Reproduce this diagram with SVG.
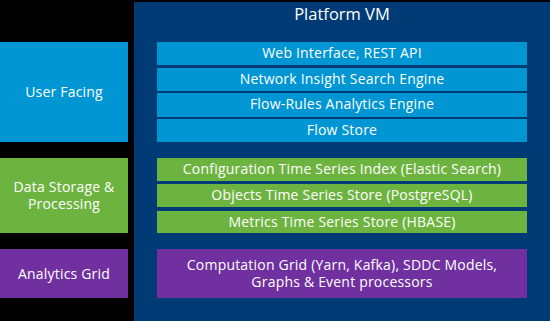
<svg xmlns="http://www.w3.org/2000/svg" width="550" height="321" viewBox="0 0 550 321">
  <style>
    .t { font-family: "Open Sans", "Liberation Sans", sans-serif; fill: #ffffff; text-anchor: middle; font-size: 14px; letter-spacing: 0.2px; }
    .title { font-size: 16.5px; letter-spacing: 0; }
    .blue { fill: #0095d3; }
    .green { fill: #6db33f; }
    .purple { fill: #7030a0; }
  </style>
  <rect x="0" y="0" width="550" height="321" fill="#000000"/>

  <!-- Platform VM container -->
  <g id="platform-vm">
    <rect x="134" y="2" width="416" height="319" fill="#003b76"/>
    <text class="t title" x="342" y="20">Platform VM</text>
  </g>

  <!-- Left-hand category labels -->
  <g id="user-facing">
    <rect class="blue" x="0" y="42" width="128" height="100"/>
    <text class="t" x="64" y="97">User Facing</text>
  </g>
  <g id="data-storage">
    <rect class="green" x="0" y="158" width="128" height="75"/>
    <text class="t" x="64" y="192">Data Storage &amp;<tspan x="64" dy="16.5">Processing</tspan></text>
  </g>
  <g id="analytics-grid">
    <rect class="purple" x="0" y="249" width="128" height="49"/>
    <text class="t" x="64" y="278.5">Analytics Grid</text>
  </g>

  <!-- User facing layers -->
  <g id="web-interface">
    <rect class="blue" x="157" y="42" width="370" height="23"/>
    <text class="t" x="342" y="57.5">Web Interface, REST API</text>
  </g>
  <g id="search-engine">
    <rect class="blue" x="157" y="68" width="370" height="23"/>
    <text class="t" x="342" y="83.5">Network Insight Search Engine</text>
  </g>
  <g id="analytics-engine">
    <rect class="blue" x="157" y="93" width="370" height="24"/>
    <text class="t" x="342" y="109">Flow-Rules Analytics Engine</text>
  </g>
  <g id="flow-store">
    <rect class="blue" x="157" y="119" width="370" height="23"/>
    <text class="t" x="342" y="134.5">Flow Store</text>
  </g>

  <!-- Storage layers -->
  <g id="config-index">
    <rect class="green" x="157" y="158" width="370" height="23"/>
    <text class="t" x="342" y="173.5">Configuration Time Series Index (Elastic Search)</text>
  </g>
  <g id="objects-store">
    <rect class="green" x="157" y="184" width="370" height="23"/>
    <text class="t" x="342" y="199.5">Objects Time Series Store (PostgreSQL)</text>
  </g>
  <g id="metrics-store">
    <rect class="green" x="157" y="211" width="370" height="22"/>
    <text class="t" x="342" y="226.5">Metrics Time Series Store (HBASE)</text>
  </g>

  <!-- Compute layer -->
  <g id="computation-grid">
    <rect class="purple" x="157" y="249" width="370" height="49"/>
    <text class="t" x="342" y="270">Computation Grid (Yarn, Kafka), SDDC Models,<tspan x="342" dy="16.5">Graphs &amp; Event processors</tspan></text>
  </g>

  <g id="connectors"/>
</svg>
